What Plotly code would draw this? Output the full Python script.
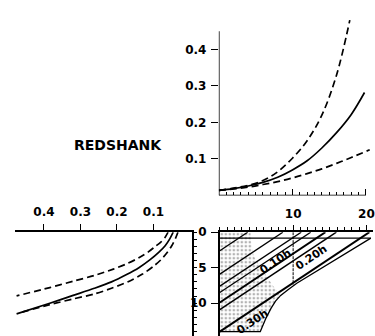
import plotly.graph_objects as go

W, H = 375, 336

# ---------------- Panel A (upper right): growth curves ----------------
a_x_hi = [0, 2, 4, 6, 8, 10, 12, 14, 16, 17.8]
a_y_hi = [0.014, 0.020, 0.028, 0.041, 0.065, 0.102, 0.150, 0.220, 0.330, 0.48]
a_x_mid = [0, 2, 4, 6, 8, 10, 12, 14, 16, 18, 19.8]
a_y_mid = [0.014, 0.019, 0.026, 0.036, 0.050, 0.070, 0.095, 0.130, 0.172, 0.222, 0.282]
a_x_lo = [0, 2, 4, 6, 8, 10, 12, 14, 16, 18, 20.5]
a_y_lo = [0.014, 0.018, 0.023, 0.030, 0.038, 0.048, 0.060, 0.073, 0.088, 0.104, 0.125]
a_yticks = [0.1, 0.2, 0.3, 0.4]
a_yticktext = ["0.1", "0.2", "0.3", "0.4"]
a_yaxis_top = 0.45

# ---------------- Panel B (lower left): depth curves ----------------
b_v_hi = [0.060, 0.068, 0.080, 0.095, 0.115, 0.140, 0.171, 0.210, 0.262, 0.320, 0.384, 0.475]
b_d_hi = [0.0, 0.7, 1.4, 2.0, 2.8, 3.6, 4.4, 5.2, 6.1, 6.9, 7.8, 8.97]
b_v_mid = [0.046, 0.055, 0.068, 0.085, 0.110, 0.140, 0.175, 0.215, 0.262, 0.320, 0.384, 0.475]
b_d_mid = [0.0, 0.9, 1.9, 2.8, 3.9, 5.0, 6.0, 7.0, 7.9, 8.9, 10.0, 11.5]
b_v_lo = [0.033, 0.040, 0.050, 0.063, 0.080, 0.100, 0.130, 0.171, 0.215, 0.262, 0.320, 0.384, 0.470]
b_d_lo = [0.0, 0.9, 1.9, 2.9, 3.9, 4.8, 5.9, 7.0, 7.9, 8.7, 9.4, 10.2, 11.4]
b_xticks = [0.1, 0.2, 0.3, 0.4]
b_xticktext = ["0.1", "0.2", "0.3", "0.4"]

# ---------------- Panel C (lower right): depth/distance diagram ----------------
c_xticks = [10, 20]
c_xticktext = ["10", "20"]
c_yticks = [0, 5, 10]
c_yticktext = ["0", "5", "10"]
stip_x = [0, 4.2, 4.2, 4.6, 6.0, 7.3, 8.3, 7.6, 7.0, 6.3, 5.52, 0]
stip_d = [0, 0, 0.83, 3.3, 5.6, 7.6, 8.9, 9.7, 10.7, 12.1, 14.0, 14.0]
shelf_x = [0, 20.6]
shelf_d = [0.83, 0.83]
vert_x = [10, 10]
vert_d = [0, 7.4]
bound_x = [20.6, 18.0, 15.0, 12.5, 10.5, 9.3, 8.3, 7.6, 7.0, 6.3, 5.52, 0]
bound_d = [0.83, 2.45, 4.3, 5.95, 7.2, 8.1, 8.9, 9.7, 10.7, 12.1, 14.0, 14.0]
diag_x0 = [0, 0, 0, 0, 0, 0, 0]
diag_d0 = [2.6, 5.9, 7.6, 8.5, 9.9, 10.9, 14.0]
diag_x1 = [3.8, 8.6, 11.1, 12.4, 14.4, 15.9, 20.4]
diag_d1 = [0, 0, 0, 0, 0, 0, 0.0]
diag_w = [1.3, 1.3, 1.3, 1.3, 2.0, 1.6, 2.0]
h_labels = ["0.10h", "0.20h", "0.30h"]
h_lab_x = [7.6, 12.5, 4.5]
h_lab_d = [4.1, 3.6, 12.6]

fig = go.Figure()
dash = "7px,4px"
K = "black"
LW = 1.7

# Panel A curves
fig.add_trace(go.Scatter(x=a_x_hi, y=a_y_hi, mode="lines", line=dict(color=K, width=LW, dash=dash, shape="spline"), xaxis="x", yaxis="y"))
fig.add_trace(go.Scatter(x=a_x_mid, y=a_y_mid, mode="lines", line=dict(color=K, width=LW, shape="spline"), xaxis="x", yaxis="y"))
fig.add_trace(go.Scatter(x=a_x_lo, y=a_y_lo, mode="lines", line=dict(color=K, width=LW, dash=dash, shape="spline"), xaxis="x", yaxis="y"))

# Panel B curves
fig.add_trace(go.Scatter(x=b_v_hi, y=b_d_hi, mode="lines", line=dict(color=K, width=LW, dash=dash, shape="spline", smoothing=0.8), xaxis="x2", yaxis="y2"))
fig.add_trace(go.Scatter(x=b_v_mid, y=b_d_mid, mode="lines", line=dict(color=K, width=LW, shape="spline", smoothing=0.8), xaxis="x2", yaxis="y2"))
fig.add_trace(go.Scatter(x=b_v_lo, y=b_d_lo, mode="lines", line=dict(color=K, width=LW, dash=dash, shape="spline", smoothing=0.8), xaxis="x2", yaxis="y2"))

# Panel C
fig.add_trace(go.Scatter(x=stip_x, y=stip_d, mode="lines", fill="toself", line=dict(width=0, color="rgba(0,0,0,0)"),
                         fillcolor="white",
                         fillpattern=dict(shape=".", size=4, solidity=0.35, fgcolor="#666", bgcolor="white"),
                         xaxis="x3", yaxis="y3"))
fig.add_trace(go.Scatter(x=shelf_x, y=shelf_d, mode="lines", line=dict(color=K, width=1.3), xaxis="x3", yaxis="y3"))
fig.add_trace(go.Scatter(x=vert_x, y=vert_d, mode="lines", line=dict(color=K, width=1.0, dash="3px,1px"), xaxis="x3", yaxis="y3"))
fig.add_trace(go.Scatter(x=bound_x, y=bound_d, mode="lines", line=dict(color=K, width=1.3), xaxis="x3", yaxis="y3"))
for x0, d0, x1, d1, w in zip(diag_x0, diag_d0, diag_x1, diag_d1, diag_w):
    fig.add_trace(go.Scatter(x=[x0, x1], y=[d0, d1], mode="lines", line=dict(color=K, width=w), xaxis="x3", yaxis="y3"))

tick_font = dict(family="DejaVu Sans", size=12, color=K, weight="bold")

ann = [dict(text="REDSHANK", x=119 / W, y=1 - 141 / H, xref="paper", yref="paper", showarrow=False,
            xanchor="center", yanchor="middle",
            font=dict(family="DejaVu Sans", size=14, color=K, weight="bold"))]
for t, x, d in zip(h_labels, h_lab_x, h_lab_d):
    ann.append(dict(text=t, x=x, y=d, xref="x3", yref="y3", showarrow=False, textangle=-34,
                    xanchor="center", yanchor="middle",
                    font=dict(family="DejaVu Sans", size=11, color=K, weight="bold")))

d_range = [(H - 230) / 7.25, 0]
a_ytop = 0.49  # plotting room above the drawn axis line (curve runs past it)
a_px_per = 373.0

fig.update_layout(
    width=W, height=H, autosize=False,
    margin=dict(l=0, r=0, t=0, b=0, pad=0),
    paper_bgcolor="white", plot_bgcolor="rgba(0,0,0,0)",
    showlegend=False,
    annotations=ann,
    shapes=[dict(type="line", xref="x", yref="y", x0=0, x1=0, y0=0, y1=a_yaxis_top,
                 line=dict(color=K, width=1.5))],
    xaxis=dict(domain=[220 / W, 372.4 / W], range=[0, 20.6], anchor="y",
               showline=False, showgrid=False, zeroline=False,
               ticks="inside", tickvals=[10, 20], ticklen=6, tickwidth=1.3, tickcolor=K,
               minor=dict(dtick=1, tick0=0, ticks="inside", ticklen=3, tickcolor=K, tickwidth=1),
               showticklabels=False),
    yaxis=dict(domain=[1 - 192.5 / H, 1 - (192.5 - a_ytop * a_px_per) / H], range=[0, a_ytop], anchor="x",
               showline=False, showgrid=False, zeroline=False,
               ticks="outside", tickvals=a_yticks, ticktext=a_yticktext, ticklen=7, tickwidth=1.3, tickcolor=K,
               tickfont=tick_font, ticklabelstandoff=2),
    xaxis2=dict(domain=[14.8 / W, 192.7 / W], range=[0.4801, -0.0046], anchor="y2", side="top",
                showline=True, linecolor=K, linewidth=1.5, showgrid=False, zeroline=False,
                ticks="outside", tickvals=b_xticks, ticktext=b_xticktext, ticklen=6, tickwidth=1.3, tickcolor=K,
                tickfont=tick_font, ticklabelstandoff=4),
    yaxis2=dict(domain=[0, 1 - 230 / H], range=d_range, anchor="x2", side="right",
                showline=True, linecolor=K, linewidth=1.5, showgrid=False, zeroline=False,
                ticks="outside", tickvals=[0, 5, 10], ticklen=4, tickcolor=K,
                minor=dict(dtick=1, tick0=0, ticks="outside", ticklen=4, tickcolor=K, tickwidth=1),
                showticklabels=False),
    xaxis3=dict(domain=[221 / W, 1], range=[0, 154 / 7.37], anchor="y3", side="top",
                showline=True, linecolor=K, linewidth=1.5, showgrid=False, zeroline=False,
                ticks="outside", tickvals=c_xticks, ticktext=c_xticktext, ticklen=5, tickwidth=1.3, tickcolor=K,
                minor=dict(dtick=1, tick0=0, ticks="outside", ticklen=3, tickcolor=K, tickwidth=1),
                tickfont=tick_font, ticklabelstandoff=3, ticklabeloverflow="allow"),
    yaxis3=dict(domain=[0, 1 - 230 / H], range=d_range, anchor="x3",
                showline=True, linecolor=K, linewidth=1.5, showgrid=False, zeroline=False,
                ticks="outside", tickvals=c_yticks, ticktext=c_yticktext, ticklen=7, tickwidth=1.3, tickcolor=K,
                tickfont=tick_font, ticklabelstandoff=2),
)

# x-axis line of panel A (from 0 to 20 only)
fig.add_shape(type="line", xref="x", yref="y", x0=0, x1=20, y0=0, y1=0, line=dict(color=K, width=1.5))

fig.write_html("out.html")
